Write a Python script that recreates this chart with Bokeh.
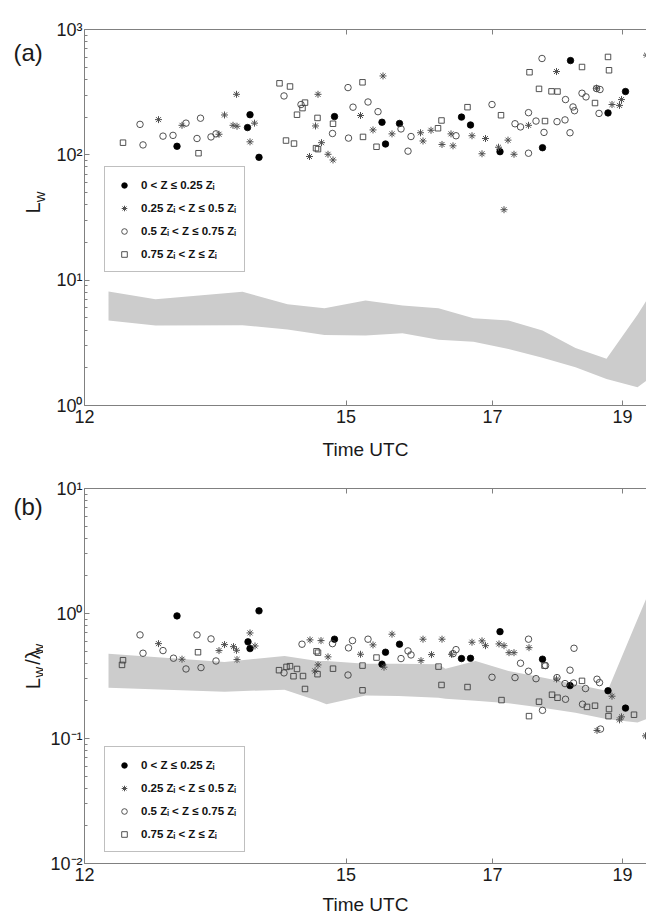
import math
from bokeh.plotting import figure
from bokeh.models import Range1d, FixedTicker, LinearAxis, Legend, LegendItem
from bokeh.layouts import column, row
from bokeh.embed import file_html
from bokeh.resources import INLINE
from bokeh.core.properties import value

# ---------------- data ----------------
# x: position along the record (arbitrary sample units); time ticks are placed at given positions
X_MAX = 112.4
time_tick_pos = [0.0, 52.3, 81.6, 107.6]
time_tick_labels = ["12", "15", "17", "19"]

legend_labels = ["0 < Z \u2264 0.25 Z\u1d62",
                 "0.25 Z\u1d62 < Z \u2264 0.5 Z\u1d62",
                 "0.5 Z\u1d62 < Z \u2264 0.75 Z\u1d62",
                 "0.75 Z\u1d62 < Z \u2264 Z\u1d62"]

# ---- panel (a): L_w ----
a_ticks = [1, 10, 100, 1000]
a_tick_labels = ["10\u2070", "10\u00b9", "10\u00b2", "10\u00b3"]

a_band_x = [4.8, 14.2, 31.6, 40.6, 48.0, 56.2, 63.6, 70.8, 77.8, 84.8, 91.6, 98.2, 104.4, 110.6, 112.4]
a_band_hi = [8.12, 7.05, 8.08, 6.43, 5.98, 6.88, 6.28, 5.98, 4.97, 4.77, 3.97, 2.88, 2.36, 5.29, 6.88]
a_band_lo = [4.77, 4.35, 4.37, 4.04, 3.66, 3.62, 3.77, 3.34, 3.22, 2.83, 2.40, 2.02, 1.63, 1.40, 1.58]

a_z1_x = [18.5, 32.6, 33.1, 34.9, 50.0, 59.5, 60.2, 63.0, 75.4, 77.2, 83.1, 91.6, 97.2, 104.7, 108.2]
a_z1_y = [117, 165, 209, 95.5, 202, 182, 122, 178, 200, 173, 106, 114, 565, 216, 320]

a_z2_x = [14.8, 19.5, 26.9, 28.0, 29.7, 30.4, 30.5, 33.1, 34.0, 45.0, 46.2, 46.7, 47.4, 48.7, 49.7,
          55.2, 57.7, 59.7, 61.5, 67.2, 67.7, 69.3, 71.5, 73.3, 73.7, 77.5, 79.5, 80.2, 82.8, 84.7,
          85.9, 83.9, 88.8, 94.4, 102.4, 105.5, 107.0, 107.4, 112.4]
a_z2_y = [191, 172, 146, 208, 172, 304, 169, 127, 179, 97, 170, 304, 125, 101, 91,
          206, 158, 426, 147, 150, 129, 157, 121, 147, 118, 142, 102, 135, 115, 131,
          101, 36.5, 172, 462, 340, 252, 248, 276, 624]

a_z3_x = [11.1, 11.7, 15.7, 17.7, 20.3, 22.5, 23.2, 25.3, 26.3, 39.9, 43.3, 49.6, 52.8, 52.7, 53.7,
          56.7, 58.7, 63.3, 64.7, 65.3, 74.3, 81.5, 86.1, 87.2, 88.8, 88.8, 90.3, 91.5, 91.9, 94.5,
          96.1, 96.2, 97.1, 97.7, 98.0, 99.5, 100.3, 102.4, 103.1, 102.9]
a_z3_y = [175, 120, 141, 143, 179, 135, 196, 139, 147, 295, 252, 148, 136, 344, 240,
          264, 221, 161, 107, 140, 142, 252, 177, 167, 217, 103, 186, 587, 151, 184,
          190, 276, 150, 241, 225, 310, 290, 338, 332, 214]

a_z4_x = [7.7, 22.8, 39.0, 41.1, 40.3, 41.9, 42.5, 43.6, 44.1, 46.6, 46.3, 46.7, 49.7, 55.6, 55.7,
          58.4, 70.7, 71.4, 76.6, 83.3, 89.0, 90.9, 92.1, 93.4, 94.6, 99.5, 102.1, 104.7, 104.9]
a_z4_y = [125, 103, 372, 351, 130, 123, 209, 236, 261, 197, 113, 111, 177, 379, 139,
          116, 163, 188, 240, 207, 456, 336, 186, 321, 320, 502, 259, 604, 473]

# ---- panel (b): L_w / lambda_w ----
b_ticks = [0.01, 0.1, 1, 10]
b_tick_labels = ["10\u207b\u00b2", "10\u207b\u00b9", "10\u2070", "10\u00b9"]

b_band_x = [4.8, 28.0, 40.0, 46.6, 48.4, 56.2, 62.8, 70.8, 72.2, 78.2, 84.8, 91.6, 98.2, 104.6, 110.6, 112.4]
b_band_hi = [0.477, 0.410, 0.458, 0.417, 0.416, 0.396, 0.396, 0.393, 0.362, 0.417, 0.347, 0.307, 0.272, 0.240, 0.900, 1.33]
b_band_lo = [0.255, 0.237, 0.246, 0.200, 0.188, 0.221, 0.219, 0.212, 0.208, 0.200, 0.191, 0.176, 0.161, 0.1425, 0.134, 0.143]

b_z1_x = [18.5, 34.9, 32.7, 33.1, 50.0, 60.2, 59.5, 63.0, 75.4, 77.2, 83.1, 91.6, 97.1, 104.7, 108.2]
b_z1_y = [0.957, 1.05, 0.593, 0.524, 0.623, 0.490, 0.393, 0.568, 0.436, 0.438, 0.716, 0.431, 0.265, 0.241, 0.175]

b_z2_x = [14.8, 19.5, 26.9, 28.0, 29.8, 30.4, 30.5, 33.1, 34.1, 45.1, 47.3, 48.7, 46.7, 46.1, 55.2,
          57.7, 61.5, 59.9, 67.7, 67.3, 69.4, 71.5, 73.4, 77.5, 79.5, 80.2, 82.9, 83.9, 84.9, 85.9,
          88.9, 94.4, 105.5, 107.4, 107.0, 102.5, 112.2]
b_z2_y = [0.574, 0.431, 0.505, 0.564, 0.543, 0.508, 0.428, 0.699, 0.550, 0.615, 0.607, 0.450, 0.388, 0.347, 0.472,
          0.561, 0.683, 0.372, 0.623, 0.420, 0.469, 0.623, 0.472, 0.589, 0.604, 0.553, 0.571, 0.553, 0.486, 0.486,
          0.533, 0.299, 0.218, 0.149, 0.141, 0.116, 0.105]

b_z3_x = [11.1, 11.7, 15.7, 17.8, 20.3, 22.5, 23.3, 25.3, 26.3, 39.9, 43.5, 49.6, 52.8, 53.6, 52.7,
          56.7, 64.7, 65.3, 63.3, 74.3, 73.7, 88.8, 87.2, 88.8, 81.5, 86.1, 90.3, 97.9, 97.1, 94.5,
          96.1, 97.8, 100.2, 102.5, 103.0, 96.2, 99.6, 91.6, 103.2, 92.2]
b_z3_y = [0.674, 0.481, 0.505, 0.439, 0.360, 0.674, 0.369, 0.626, 0.417, 0.335, 0.568, 0.574, 0.531, 0.607, 0.322,
          0.623, 0.502, 0.466, 0.436, 0.514, 0.477, 0.623, 0.400, 0.345, 0.309, 0.307, 0.301, 0.527, 0.352, 0.307,
          0.275, 0.278, 0.251, 0.298, 0.280, 0.206, 0.188, 0.168, 0.119, 0.383]

b_z4_x = [7.7, 7.5, 22.7, 38.9, 40.4, 41.1, 42.5, 41.8, 43.7, 44.1, 46.4, 46.7, 46.6, 49.7, 55.6, 55.6,
          58.4, 70.8, 71.4, 76.6, 83.4, 90.9, 92.0, 88.9, 93.5, 94.6, 99.5, 100.5, 102.1, 104.9, 104.8, 109.9]
b_z4_y = [0.423, 0.388, 0.490, 0.352, 0.374, 0.379, 0.360, 0.315, 0.316, 0.249, 0.499, 0.486, 0.327, 0.362, 0.383, 0.243,
          0.444, 0.376, 0.268, 0.258, 0.203, 0.197, 0.383, 0.151, 0.224, 0.212, 0.289, 0.179, 0.183, 0.172, 0.151, 0.155]

# ---------------- styling ----------------
FONT = "Liberation Sans"
AXIS_GREY = "#808080"
TEXT = "#1a1a1a"
FRAME_W = 562
FRAME_LEFT = 84      # side strip + tick-label border

marker_styles = [
    dict(marker="circle", size=6.5, fill_color="black", line_color="black", line_width=0.8),
    dict(marker="asterisk", size=7, fill_color=None, line_color="#505050", line_width=1.0),
    dict(marker="circle", size=6.5, fill_color=None, line_color="#404040", line_width=0.9),
    dict(marker="square", size=5.5, fill_color=None, line_color="#404040", line_width=0.9),
]


def style_axis(ax):
    ax.axis_line_color = AXIS_GREY
    ax.major_tick_line_color = AXIS_GREY
    ax.minor_tick_line_color = AXIS_GREY
    ax.major_tick_in = 5
    ax.major_tick_out = 0
    ax.minor_tick_in = 3
    ax.minor_tick_out = 0
    ax.major_label_text_font = FONT
    ax.major_label_text_font_size = "18px"
    ax.major_label_text_color = TEXT


def build_side(side_w, tag, ylabel_pieces, canvas_h, tag_y_from_top, title_start_from_top):
    s = figure(width=side_w, height=canvas_h, x_range=Range1d(0, side_w), y_range=Range1d(0, canvas_h),
               min_border=0, toolbar_location=None, output_backend="svg",
               x_axis_location=None, y_axis_location=None)
    s.outline_line_color = None
    for g in s.grid:
        g.visible = False
    s.text(x=[13], y=[canvas_h - tag_y_from_top], text=[tag], text_font=value(FONT),
           text_font_size="24px", text_align="left", text_baseline="middle", text_color=TEXT)
    yy = canvas_h - title_start_from_top
    for text, fs, shift, adv, glyph_w in ylabel_pieces:
        if glyph_w:
            # anchor at the far end of the piece so it stays inside the strip
            s.text(x=[32 + shift], y=[yy + glyph_w], text=[text], angle=math.pi / 2, text_font=value(FONT),
                   text_font_size=f"{fs}px", text_align="right", text_baseline="alphabetic",
                   text_color=TEXT)
        else:
            s.text(x=[32 + shift], y=[yy], text=[text], angle=math.pi / 2, text_font=value(FONT),
                   text_font_size=f"{fs}px", text_align="left", text_baseline="alphabetic",
                   text_color=TEXT)
        yy += adv
    return s


def build_panel(left_border, ylo, yhi, yticks, ytick_labels, band_x, band_lo, band_hi, series,
                legend_y, frame_h, top_border, bottom_border, label_gap):
    p = figure(frame_width=FRAME_W, frame_height=frame_h,
               x_range=Range1d(0, X_MAX), y_range=Range1d(ylo, yhi),
               y_axis_type="log", output_backend="svg", toolbar_location=None,
               min_border_left=left_border, min_border_right=0,
               min_border_top=top_border, min_border_bottom=bottom_border)
    p.outline_line_color = None
    p.grid.visible = False
    p.background_fill_color = "white"
    p.border_fill_color = "white"

    p.varea(x=band_x, y1=band_lo, y2=band_hi, fill_color="#cccccc")

    renderers = []
    for (xs, ys), st in zip(series, marker_styles):
        renderers.append(p.scatter(x=xs, y=ys, **st))

    # bottom axis
    xa = p.xaxis[0]
    xa.ticker = FixedTicker(ticks=time_tick_pos)
    xa.major_label_overrides = {t: l for t, l in zip(time_tick_pos, time_tick_labels)}
    style_axis(xa)
    xa.minor_tick_line_color = None
    xa.major_label_standoff = 4
    xa.axis_label = "Time UTC"
    xa.axis_label_text_font = FONT
    xa.axis_label_text_font_size = "19px"
    xa.axis_label_text_font_style = "normal"
    xa.axis_label_text_color = TEXT
    xa.axis_label_standoff = label_gap

    # top axis (box edge, no labels)
    top = LinearAxis(ticker=FixedTicker(ticks=time_tick_pos))
    style_axis(top)
    top.minor_tick_line_color = None
    top.major_label_text_font_size = "1px"
    top.major_label_text_color = None
    top.major_label_standoff = 0
    p.add_layout(top, "above")

    # left log axis
    ya = p.yaxis[0]
    minor = []
    for t in yticks[:-1]:
        minor += [t * k for k in range(2, 10)]
    ya.ticker = FixedTicker(ticks=yticks, minor_ticks=minor)
    ya.major_label_overrides = {t: l for t, l in zip(yticks, ytick_labels)}
    style_axis(ya)
    ya.major_label_standoff = 2

    legend = Legend(items=[LegendItem(label=lab, renderers=[r]) for lab, r in zip(legend_labels, renderers)],
                    location=(20, legend_y))
    legend.glyph_width = 22
    legend.glyph_height = 14
    legend.label_height = 19
    legend.label_standoff = 6
    legend.spacing = 4
    legend.padding = 8
    legend.margin = 0
    legend.border_line_color = AXIS_GREY
    legend.border_line_width = 1
    legend.background_fill_color = "white"
    legend.background_fill_alpha = 1.0
    legend.label_text_font = FONT
    legend.label_text_font_size = "11.5px"
    legend.label_text_font_style = "bold"
    legend.label_text_color = "#111111"
    p.add_layout(legend)
    return p


A_TOP, A_FRAME, A_BOT = 29, 376, 61
B_TOP, B_FRAME, B_BOT = 22, 375, 55
A_SIDE, B_SIDE = 50, 43
W_SUB = 0.722 * 15   # advance of a 15px "w"

pa = build_panel(FRAME_LEFT - A_SIDE, 1, 1000, a_ticks, a_tick_labels, a_band_x, a_band_lo, a_band_hi,
                 [(a_z1_x, a_z1_y), (a_z2_x, a_z2_y), (a_z3_x, a_z3_y), (a_z4_x, a_z4_y)],
                 133, A_FRAME, A_TOP, A_BOT, 13)
pb = build_panel(FRAME_LEFT - B_SIDE, 0.01, 10, b_ticks, b_tick_labels, b_band_x, b_band_lo, b_band_hi,
                 [(b_z1_x, b_z1_y), (b_z2_x, b_z2_y), (b_z3_x, b_z3_y), (b_z4_x, b_z4_y)],
                 11, B_FRAME, B_TOP, B_BOT, 10)

# y titles: (text, font px, baseline shift to the right, advance along the text, right-anchor width)
sa = build_side(A_SIDE, "(a)", [("L", 20, 0, 16.5, 0), ("w", 15, 7, 12, W_SUB)],
                A_TOP + A_FRAME + A_BOT, A_TOP, 228)
sb = build_side(B_SIDE, "(b)", [("L", 20, 0, 16.5, 0), ("w", 15, 6, 13, W_SUB),
                                ("/\u03bb", 20, 0, 14.5, 0), ("w", 15, 6, 12, W_SUB)],
                B_TOP + B_FRAME + B_BOT, B_TOP, 708 - 466)

layout = column(row(sa, pa), row(sb, pb))
open("out.html", "w").write(file_html(layout, INLINE))
